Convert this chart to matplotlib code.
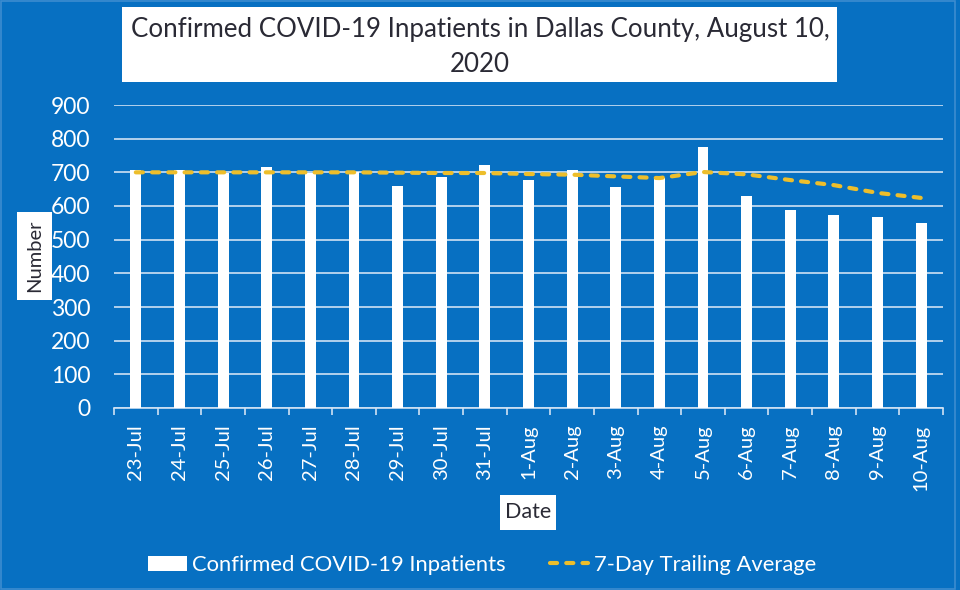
import matplotlib.pyplot as plt
from matplotlib.patches import Rectangle
from matplotlib.lines import Line2D
import numpy as np

plt.rcParams['font.family'] = ['Lato', 'DejaVu Sans']

# data
dates = ['23-Jul', '24-Jul', '25-Jul', '26-Jul', '27-Jul', '28-Jul', '29-Jul',
         '30-Jul', '31-Jul', '1-Aug', '2-Aug', '3-Aug', '4-Aug', '5-Aug',
         '6-Aug', '7-Aug', '8-Aug', '9-Aug', '10-Aug']
inpatients = [708, 707, 699, 716, 699, 700, 658, 686, 722, 678,
              707, 656, 682, 775, 630, 588, 573, 568, 549]
avg7 = [700, 700, 700, 700, 700, 700, 699, 698, 698, 695,
        693, 688, 683, 701, 694, 677, 662, 639, 624]

bg = '#0770C2'
grid_col = '#CFE2F4'
gold = '#EDBE2B'
dark = '#2A2A35'

fig = plt.figure(figsize=(9.6, 5.9), dpi=100, facecolor=bg)
W, H = 960, 590

def fx(px):
    return px / W

def fy(py):
    return 1 - py / H

ax = fig.add_axes([fx(114), fy(408), fx(943) - fx(114), fy(105) - fy(408)])
ax.set_facecolor(bg)

x = np.arange(len(dates))
ax.bar(x, inpatients, width=0.25, color='white', zorder=3,
       label='Confirmed COVID-19 Inpatients')
ax.plot(x, avg7, color=gold, lw=3, dashes=(1.7, 2.2), dash_capstyle='round',
        zorder=4, label='7-Day Trailing Average')

ax.set_xlim(-0.5, len(dates) - 0.5)
ax.set_ylim(0, 900)
ax.set_yticks(range(0, 901, 100))
ax.yaxis.grid(True, color=grid_col, lw=1.2, zorder=0)
ax.set_axisbelow(True)

for s in ['top', 'right', 'left']:
    ax.spines[s].set_visible(False)
ax.spines['bottom'].set_color(grid_col)
ax.spines['bottom'].set_linewidth(1.2)

ax.set_xticks(x)
ax.set_xticklabels(dates, rotation=90)
ax.set_xticks(np.arange(-0.5, len(dates)), minor=True)
ax.tick_params(axis='x', which='major', length=0, pad=12, labelsize=14.5,
               labelcolor='white')
ax.tick_params(axis='x', which='minor', length=5, width=1.2, color=grid_col)
ax.tick_params(axis='y', length=0, pad=17, labelsize=16.5, labelcolor='white')

# title box
fig.patches.append(Rectangle((fx(122), fy(82)), fx(837) - fx(122), fy(7) - fy(82),
                             transform=fig.transFigure, facecolor='white',
                             edgecolor='none'))
fig.text(fx(480), fy(47), 'Confirmed COVID-19 Inpatients in Dallas County, August 10,\n2020',
         ha='center', va='center', fontsize=18.6, color=dark, linespacing=1.45)

# axis label boxes
fig.patches.append(Rectangle((fx(17), fy(300)), fx(52) - fx(17), fy(212) - fy(300),
                             transform=fig.transFigure, facecolor='white',
                             edgecolor='none'))
fig.text(fx(34.5), fy(256), 'Number', rotation=90, ha='center', va='center',
         fontsize=14.5, color=dark)
fig.patches.append(Rectangle((fx(500), fy(530)), fx(556) - fx(500), fy(495) - fy(530),
                             transform=fig.transFigure, facecolor='white',
                             edgecolor='none'))
fig.text(fx(528), fy(512), 'Date', ha='center', va='center', fontsize=15.5, color=dark)

# outer border
fig.patches.append(Rectangle((fx(1), fy(589)), fx(955) - fx(1), fy(1) - fy(589),
                             transform=fig.transFigure, facecolor='none',
                             edgecolor='#3D8CD0', lw=1.2))

# legend
h_bar = Rectangle((0, 0), 1, 1, facecolor='white', edgecolor='none')
h_line = Line2D([], [], color=gold, lw=3, dashes=(1.7, 2.2), dash_capstyle='round')
leg = fig.legend([h_bar, h_line], ['Confirmed COVID-19 Inpatients', '7-Day Trailing Average'],
                 loc='center', bbox_to_anchor=(fx(482), fy(565)), ncol=2,
                 frameon=False, fontsize=15.8, handlelength=1.75, handleheight=0.65,
                 handletextpad=0.25, columnspacing=2.0)
for t in leg.get_texts():
    t.set_color('white')

fig.savefig('out.png', dpi=100, facecolor=bg)
